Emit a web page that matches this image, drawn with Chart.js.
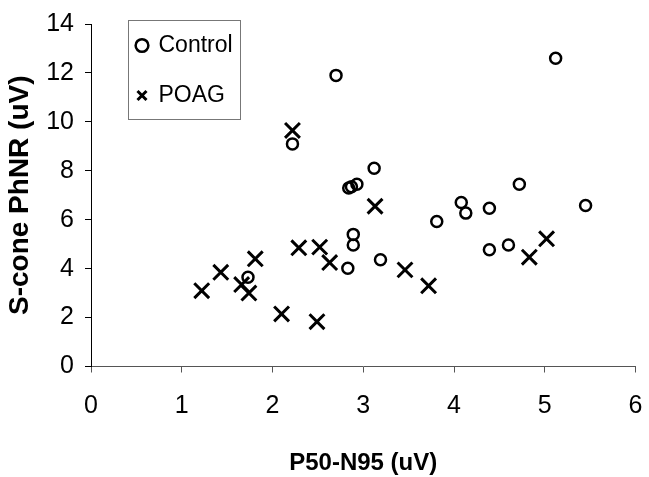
<!DOCTYPE html>
<html>
<head>
<meta charset="utf-8">
<title>S-cone PhNR vs P50-N95</title>
<script src="https://cdn.jsdelivr.net/npm/chart.js@4/dist/chart.umd.min.js"></script>
<style>
  body { margin: 0; background: #fff; }
  #chart { display: block; }
</style>
</head>
<body>
<canvas id="chart" width="649" height="477"></canvas>
<script>
// values
const controlX = [1.73, 2.22, 2.70, 2.83, 2.84, 2.87, 2.89, 2.89, 2.93, 3.12, 3.19, 3.81, 4.08, 4.13, 4.39, 4.39, 4.60, 4.72, 5.12, 5.45];
const controlY = [3.65, 9.10, 11.90, 4.02, 7.30, 7.35, 4.97, 5.40, 7.45, 8.10, 4.36, 5.93, 6.70, 6.27, 6.47, 4.77, 4.97, 7.45, 12.60, 6.58];
const poagX = [1.22, 1.43, 1.66, 1.74, 1.81, 2.10, 2.22, 2.29, 2.49, 2.52, 2.63, 3.13, 3.46, 3.72, 4.83, 5.02];
const poagY = [3.10, 3.85, 3.35, 3.00, 4.40, 2.15, 9.65, 4.85, 1.83, 4.88, 4.25, 6.55, 3.95, 3.30, 4.47, 5.22];
const xTicks = [0, 1, 2, 3, 4, 5, 6];
const yTicks = [0, 2, 4, 6, 8, 10, 12, 14];

function toPoints(xs, ys) {
    return xs.map(function (x, i) { return { x: x, y: ys[i] }; });
}

// legend sits inside the plot with a thin frame round it
const legendFrame = {
    id: 'legendFrame',
    afterLayout(chart) {
        chart.legend.left += 19;
        chart.legend.top += 7;
    },
    afterDraw(chart) {
        const boxes = chart.legend.legendHitBoxes;
        if (!boxes || !boxes.length) return;
        const first = boxes[0];
        const last = boxes[boxes.length - 1];
        let right = 0;
        boxes.forEach(function (b) { right = Math.max(right, b.left + b.width); });
        const x0 = Math.round(first.left - 9) + 0.5;
        const y0 = Math.round(first.top - 14) + 0.5;
        const x1 = Math.round(right + 7) + 0.5;
        const y1 = Math.round(last.top + last.height + 12) + 0.5;
        const ctx = chart.ctx;
        ctx.save();
        ctx.strokeStyle = '#777';
        ctx.lineWidth = 1;
        ctx.strokeRect(x0, y0, x1 - x0, y1 - y0);
        ctx.restore();
    }
};

Chart.defaults.font.family = "'Liberation Sans', Arial, sans-serif";
Chart.defaults.color = '#000';

new Chart(document.getElementById('chart'), {
    type: 'scatter',
    data: {
        datasets: [{
            label: 'Control',
            data: toPoints(controlX, controlY),
            pointStyle: 'circle',
            pointRadius: 5.5,
            pointBorderWidth: 2.5,
            borderWidth: 2.5,
            borderColor: '#000',
            backgroundColor: 'rgba(0,0,0,0)',
            pointBackgroundColor: 'rgba(0,0,0,0)'
        }, {
            label: 'POAG',
            data: toPoints(poagX, poagY),
            pointStyle: 'crossRot',
            pointRadius: 10.5,
            pointBorderWidth: 3,
            borderWidth: 3,
            borderColor: '#000',
            backgroundColor: 'rgba(0,0,0,0)'
        }]
    },
    options: {
        responsive: false,
        animation: false,
        layout: { padding: { top: 24, right: 5, left: 0, bottom: 0 } },
        plugins: {
            tooltip: { enabled: false },
            legend: {
                position: 'chartArea',
                align: 'start',
                labels: {
                    usePointStyle: true,
                    boxWidth: 10,
                    boxHeight: 9,
                    padding: 27,
                    color: '#000',
                    font: { size: 23 }
                }
            }
        },
        scales: {
            x: {
                type: 'linear',
                min: 0,
                max: 6,
                afterBuildTicks(scale) { scale.ticks = xTicks.map(function (v) { return { value: v }; }); },
                afterFit(scale) {
                    scale.height = 110.5;
                    scale.paddingLeft = 0;
                    scale.paddingRight = 0;
                },
                border: { display: true, color: '#555', width: 1 },
                grid: { display: true, drawOnChartArea: false, drawTicks: true, tickLength: 6, color: '#555' },
                ticks: { padding: 19, font: { size: 25 }, color: '#000' },
                title: {
                    display: true,
                    text: 'P50-N95 (uV)',
                    font: { size: 24, weight: 'bold', lineHeight: 1 },
                    padding: { top: 0, bottom: 2 },
                    color: '#000'
                }
            },
            y: {
                type: 'linear',
                min: 0,
                max: 14,
                afterBuildTicks(scale) { scale.ticks = yTicks.map(function (v) { return { value: v }; }); },
                afterFit(scale) {
                    scale.width = 91;
                    scale.paddingTop = 0;
                    scale.paddingBottom = 0;
                },
                border: { display: true, color: '#000', width: 1 },
                grid: { display: true, drawOnChartArea: false, drawTicks: true, tickLength: 6, color: '#000' },
                ticks: { padding: 11, font: { size: 25 }, color: '#000' },
                title: {
                    display: true,
                    text: 'S-cone PhNR (uV)',
                    font: { size: 28, weight: 'bold', lineHeight: 1 },
                    padding: { top: 6, bottom: 0 },
                    color: '#000'
                }
            }
        }
    },
    plugins: [legendFrame]
});
</script>
</body>
</html>
